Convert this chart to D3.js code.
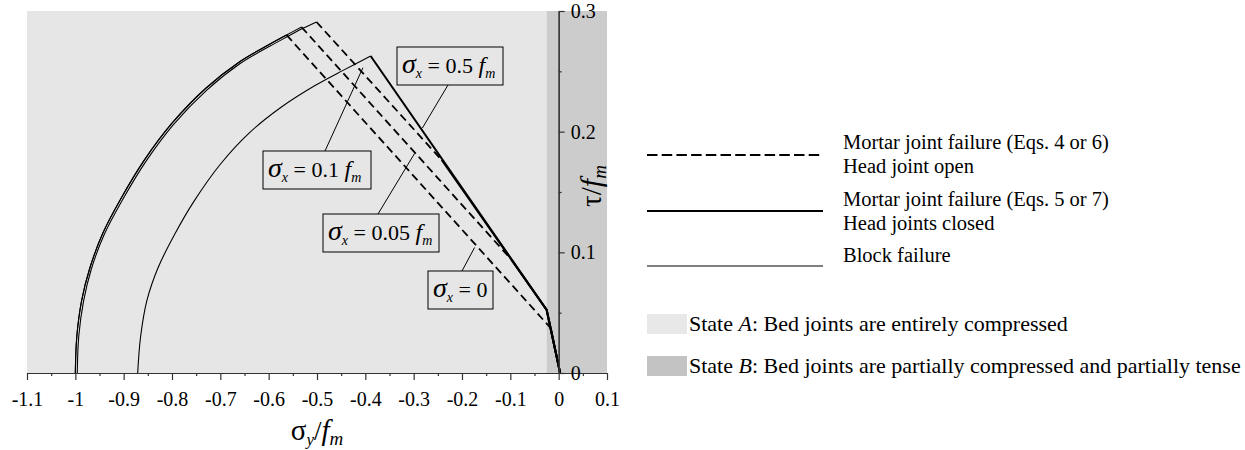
<!DOCTYPE html>
<html>
<head>
<meta charset="utf-8">
<script src="https://cdn.jsdelivr.net/npm/d3@7"></script>
<style>
  body { margin: 0; background: #fff; }
  svg text { font-family: "Liberation Serif", "Times New Roman", serif; fill: #000; }
</style>
</head>
<body>
<svg id="chart" width="1245" height="450"></svg>
<script>
'use strict';

// ---- data (sigma_y / f_m , tau / f_m) ----
var xTicks = [-1.1, -1, -0.9, -0.8, -0.7, -0.6, -0.5, -0.4, -0.3, -0.2, -0.1, 0, 0.1];
var xMinor = [-1.05, -0.95, -0.85, -0.75, -0.65, -0.55, -0.45, -0.35, -0.25, -0.15, -0.05, 0.05];
var yTicks = [0, 0.1, 0.2, 0.3];
var yMinor = [0.05, 0.15, 0.25];

var stateA = [-1.1, -0.025];
var stateB = [-0.025, 0.1];

// block failure arcs
var block0 = [[-1.000, 0], [-0.997, 0.030], [-0.987, 0.060], [-0.970, 0.087], [-0.943, 0.116],
              [-0.905, 0.145], [-0.858, 0.176], [-0.800, 0.207], [-0.730, 0.236], [-0.660, 0.258],
              [-0.600, 0.272], [-0.563, 0.2801]];
var block005 = [[-1.000, 0], [-0.997, 0.030], [-0.987, 0.060], [-0.970, 0.087], [-0.943, 0.116],
              [-0.905, 0.145], [-0.858, 0.176], [-0.800, 0.207], [-0.730, 0.236], [-0.660, 0.258],
              [-0.600, 0.272], [-0.563, 0.2801], [-0.532, 0.2867]];
var block01 = [[-0.996, 0], [-0.993, 0.030], [-0.983, 0.0595], [-0.967, 0.086], [-0.940, 0.115],
              [-0.902, 0.1438], [-0.855, 0.1748], [-0.798, 0.2055], [-0.728, 0.2345], [-0.659, 0.2565],
              [-0.599, 0.2705], [-0.562, 0.2786], [-0.531, 0.2852], [-0.501, 0.2909]];
var block05 = [[-0.871, 0], [-0.865, 0.030], [-0.852, 0.060], [-0.828, 0.088], [-0.793, 0.116],
              [-0.755, 0.142], [-0.700, 0.173], [-0.640, 0.199], [-0.575, 0.220], [-0.505, 0.238],
              [-0.445, 0.251], [-0.389, 0.2627]];

// mortar joint failure, head joint open (dashed)
var open0 = [[-0.563, 0.2801], [-0.0166, 0.0373]];
var open005 = [[-0.532, 0.2867], [-0.097, 0.0936]];
var open01 = [[-0.501, 0.2909], [-0.242, 0.1765]];

// mortar joint failure, head joints closed (thick)
var closed0 = [[-0.0166, 0.0373], [0.003, 0]];
var closed005 = [[-0.097, 0.0936], [-0.0248, 0.0522], [0.003, 0]];
var closed01 = [[-0.242, 0.1765], [-0.0248, 0.0522], [0.003, 0]];
var closed05 = [[-0.389, 0.2627], [-0.0248, 0.0522], [0.003, 0]];

var sigmaLabels = ['0.5', '0.1', '0.05', '0'];

var legendLines = [
  ['Mortar joint failure (Eqs. 4 or 6)', 'Head joint open'],
  ['Mortar joint failure (Eqs. 5 or 7)', 'Head joints closed'],
  ['Block failure']
];

// ---- drawing ----
var svg = d3.select('#chart');

var x = d3.scaleLinear().domain([-1.1, 0.1]).range([27, 607]);
var y = d3.scaleLinear().domain([0, 0.3]).range([373, 11]);

var colA = '#e6e6e6', colB = '#cccccc';

svg.append('rect')
   .attr('x', x(stateA[0])).attr('y', y(0.3))
   .attr('width', x(stateA[1]) - x(stateA[0])).attr('height', y(0) - y(0.3))
   .attr('fill', colA);
svg.append('rect')
   .attr('x', x(stateB[0])).attr('y', y(0.3))
   .attr('width', x(stateB[1]) - x(stateB[0])).attr('height', y(0) - y(0.3))
   .attr('fill', colB);

var smooth = d3.line().x(function (d) { return x(d[0]); }).y(function (d) { return y(d[1]); })
               .curve(d3.curveCatmullRom);
var straight = d3.line().x(function (d) { return x(d[0]); }).y(function (d) { return y(d[1]); });

var g = svg.append('g').attr('fill', 'none').attr('stroke', '#000');

[block0, block005, block01, block05].forEach(function (s) {
  g.append('path').attr('d', smooth(s)).attr('stroke-width', 1.1);
});
[open0, open005, open01].forEach(function (s) {
  g.append('path').attr('d', straight(s)).attr('stroke-width', 1.8).attr('stroke-dasharray', '8,4.5');
});
[closed0, closed005, closed01, closed05].forEach(function (s) {
  g.append('path').attr('d', straight(s)).attr('stroke-width', 2);
});

// axes
function styleAxis(sel) {
  sel.select('.domain').attr('stroke', '#333').attr('stroke-width', 1.2);
  sel.selectAll('.tick line').attr('stroke', '#333').attr('stroke-width', 1.2);
  sel.selectAll('text').attr('font-size', 20);
}

var fmt = function (d) { return d === 0 ? '0' : String(d); };

var xAxis = svg.append('g').attr('transform', 'translate(0,' + y(0) + ')')
  .call(d3.axisBottom(x).tickValues(xTicks).tickFormat(fmt).tickSize(7).tickSizeOuter(0).tickPadding(12));
styleAxis(xAxis);
var xAxisMinor = svg.append('g').attr('transform', 'translate(0,' + y(0) + ')')
  .call(d3.axisBottom(x).tickValues(xMinor).tickFormat('').tickSize(3).tickSizeOuter(0));
styleAxis(xAxisMinor);

var yAxis = svg.append('g').attr('transform', 'translate(' + x(0) + ',0)')
  .call(d3.axisRight(y).tickValues(yTicks).tickFormat(fmt).tickSize(6).tickSizeOuter(0).tickPadding(6));
styleAxis(yAxis);
var yAxisMinor = svg.append('g').attr('transform', 'translate(' + x(0) + ',0)')
  .call(d3.axisRight(y).tickValues(yMinor).tickFormat('').tickSize(3).tickSizeOuter(0));
styleAxis(yAxisMinor);

// axis titles
var xt = svg.append('text').attr('x', x(-0.5)).attr('y', 440).attr('text-anchor', 'middle');
xt.append('tspan').attr('font-size', 29).text('σ');
xt.append('tspan').attr('font-size', 17).attr('font-style', 'italic').attr('dy', 5).text('y');
xt.append('tspan').attr('font-size', 27).attr('dy', -5).text('/');
xt.append('tspan').attr('font-size', 29).attr('font-style', 'italic').text('f');
xt.append('tspan').attr('font-size', 19).attr('font-style', 'italic').attr('dy', 5).text('m');

var yt = svg.append('text').attr('transform', 'translate(601,186) rotate(-90)').attr('text-anchor', 'middle');
yt.append('tspan').attr('font-size', 29).text('τ/');
yt.append('tspan').attr('font-size', 30).attr('font-style', 'italic').text('f');
yt.append('tspan').attr('font-size', 19).attr('font-style', 'italic').attr('dy', 5).text('m');

// boxed labels with leaders (box in px, leader target on the curve in data units)
var notes = [
  { box: [397, 47, 106, 38], from: [448, 85], to: [-0.282, 0.203] },
  { box: [263, 151, 108, 38], from: [325, 151], to: [-0.405, 0.253] },
  { box: [323, 214, 116, 38], from: [378, 214], to: [-0.298, 0.182] },
  { box: [428, 271, 65, 38], from: [462, 271], to: [-0.174, 0.104] }
];

notes.forEach(function (n, i) {
  svg.append('line')
     .attr('x1', n.from[0]).attr('y1', n.from[1])
     .attr('x2', x(n.to[0])).attr('y2', y(n.to[1]))
     .attr('stroke', '#000').attr('stroke-width', 1);
  svg.append('rect')
     .attr('x', n.box[0]).attr('y', n.box[1]).attr('width', n.box[2]).attr('height', n.box[3])
     .attr('fill', colA).attr('stroke', '#000').attr('stroke-width', 1);
  var t = svg.append('text').attr('x', n.box[0] + 5).attr('y', n.box[1] + 26);
  t.append('tspan').attr('font-size', 28).attr('font-style', 'italic').text('σ');
  t.append('tspan').attr('font-size', 14).attr('font-style', 'italic').attr('dy', 5).text('x');
  t.append('tspan').attr('font-size', 22).attr('dy', -5).text(' = ' + sigmaLabels[i]);
  if (sigmaLabels[i] !== '0') {
    t.append('tspan').attr('font-size', 22).text(' ');
    t.append('tspan').attr('font-size', 24).attr('font-style', 'italic').text('f');
    t.append('tspan').attr('font-size', 14).attr('font-style', 'italic').attr('dy', 5).text('m');
  }
});

// legend
var lg = svg.append('g');
var lineY = [155, 211, 266];
var textY = [[149, 173], [206, 230], [262]];
legendLines.forEach(function (rows, i) {
  var l = lg.append('line').attr('x1', 647).attr('x2', 823).attr('y1', lineY[i]).attr('y2', lineY[i])
            .attr('stroke', '#000');
  if (i === 0) l.attr('stroke-width', 1.8).attr('stroke-dasharray', '10.5,4.2');
  else if (i === 1) l.attr('stroke-width', 2);
  else l.attr('stroke-width', 1.1);
  rows.forEach(function (r, j) {
    lg.append('text').attr('x', 843).attr('y', textY[i][j]).attr('font-size', 20.5).text(r);
  });
});

var states = [
  { fill: '#e8e8e8', y: 314, pre: 'State ', it: 'A', post: ': Bed joints are entirely compressed' },
  { fill: '#c3c3c3', y: 356, pre: 'State ', it: 'B', post: ': Bed joints are partially compressed and partially tense' }
];
states.forEach(function (s) {
  lg.append('rect').attr('x', 647).attr('y', s.y).attr('width', 40).attr('height', 20).attr('fill', s.fill);
  var t = lg.append('text').attr('x', 689).attr('y', s.y + 17).attr('font-size', 22);
  t.append('tspan').text(s.pre);
  t.append('tspan').attr('font-style', 'italic').text(s.it);
  t.append('tspan').text(s.post);
});
</script>
</body>
</html>
